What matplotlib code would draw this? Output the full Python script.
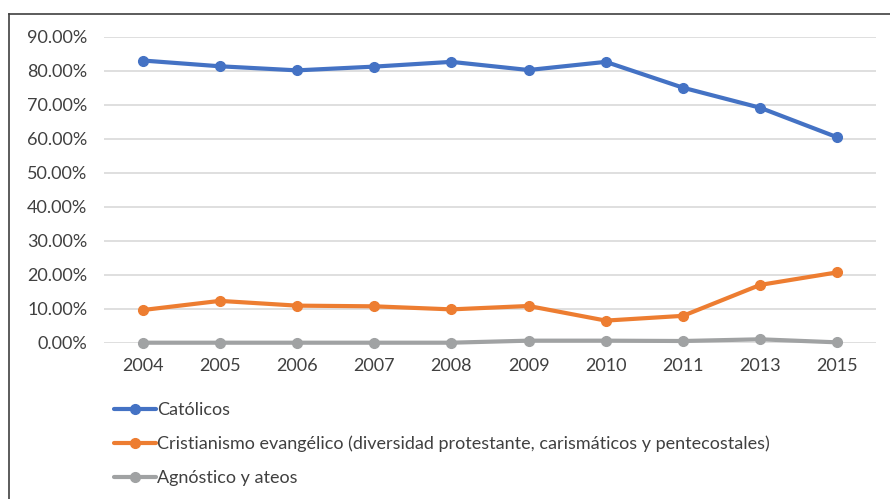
import matplotlib

matplotlib.use("Agg")
import matplotlib.pyplot as plt
from matplotlib.lines import Line2D
from matplotlib.ticker import FuncFormatter

years = ["2004", "2005", "2006", "2007", "2008", "2009", "2010", "2011", "2013", "2015"]
catolicos = [83.0, 81.3, 80.1, 81.2, 82.6, 80.2, 82.6, 75.0, 69.1, 60.4]
evangelicos = [9.6, 12.3, 10.9, 10.7, 9.8, 10.8, 6.5, 7.9, 17.0, 20.7]
agnosticos = [0.0, 0.0, 0.0, 0.0, 0.0, 0.6, 0.6, 0.5, 1.0, 0.1]

labels = [
    "Católicos",
    "Cristianismo evangélico (diversidad protestante, carismáticos y pentecostales)",
    "Agnóstico y ateos",
]
colors = ["#4472C4", "#ED7D31", "#A0A2A3"]
INK = "#404040"

plt.rcParams.update({
    "font.family": ["Lato", "DejaVu Sans"],
    "font.size": 13,
    "text.color": INK,
    "xtick.color": INK,
    "ytick.color": INK,
})

fig = plt.figure(figsize=(8.9, 4.99), dpi=100)
ax = fig.add_axes([104 / 890, 1 - 342.7 / 499, 772 / 890, 306 / 499])

x = range(len(years))
for series, lab, c in zip([catolicos, evangelicos, agnosticos], labels, colors):
    ax.plot(x, [v / 100 for v in series], color=c, lw=3, marker="o", ms=7,
            label=lab, clip_on=False, zorder=3, solid_capstyle="round")

ax.set_xlim(-0.5, len(years) - 0.5)
ax.set_ylim(0, 0.9)
ax.set_yticks([i / 10 for i in range(10)])
ax.yaxis.set_major_formatter(FuncFormatter(lambda v, _: f"{v * 100:.2f}%"))
ax.set_xticks(list(x))
ax.set_xticklabels(years)
ax.tick_params(length=0, labelsize=13)
ax.tick_params(axis="y", pad=12)
ax.tick_params(axis="x", pad=11)
ax.grid(axis="y", color="#D9D9D9", lw=1.2, zorder=0)
for s in ax.spines.values():
    s.set_visible(False)

# outer frame (cut off at right and bottom in the original)
fig.add_artist(Line2D([9 / 890, 9 / 890], [0, 1 - 14 / 499], color=INK, lw=1.2))
fig.add_artist(Line2D([9 / 890, 1], [1 - 14 / 499, 1 - 14 / 499], color=INK, lw=1.2))

fig.legend(loc="upper left", bbox_to_anchor=(107 / 890, 1 - 395 / 499), frameon=False,
           handlelength=2.3, handletextpad=0.05, labelspacing=0.98, fontsize=13,
           borderaxespad=0)

fig.savefig("out.png", dpi=100)
